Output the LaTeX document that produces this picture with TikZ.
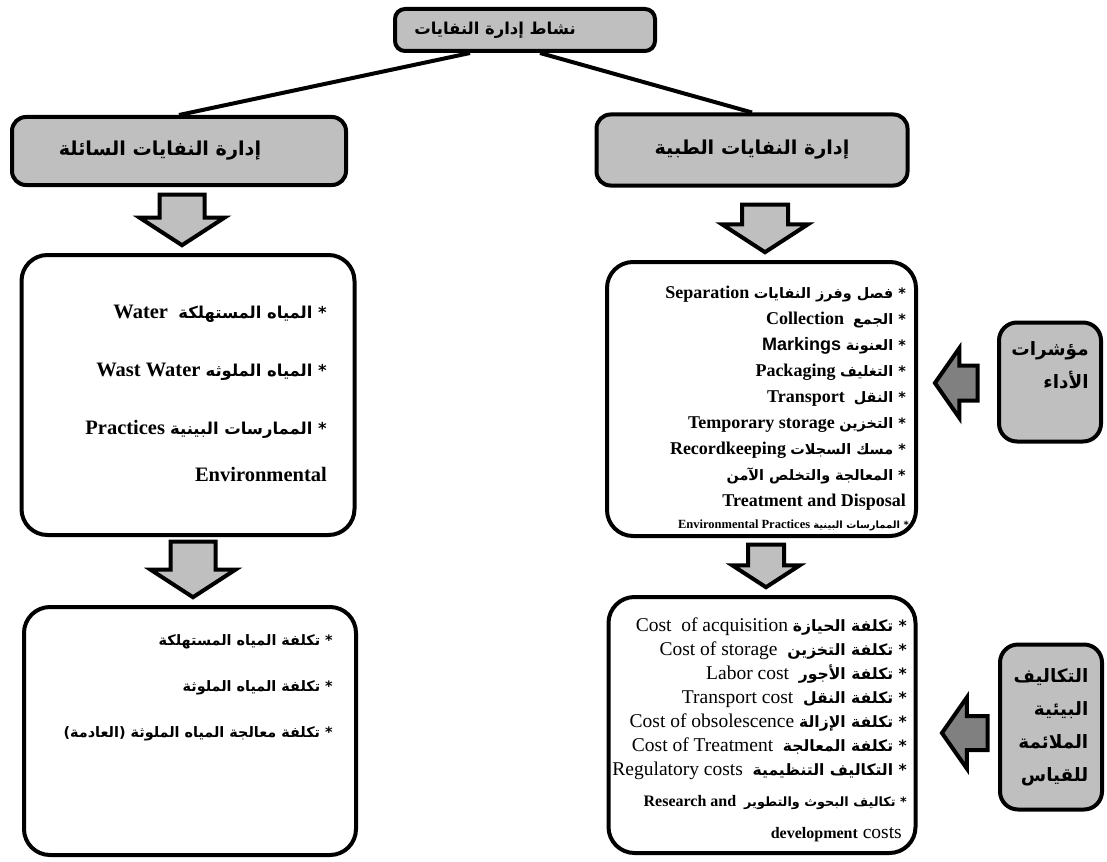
\documentclass[tikz,border=0pt]{standalone}
\usepackage{fontspec}
\setmainfont{Liberation Serif}
\newfontfamily\arabicfont[Script=Arabic,Scale=0.8]{DejaVu Sans}
\newfontfamily\latinsans{Liberation Sans}
\TeXXeTstate=1
\usetikzlibrary{shapes.arrows,calc}

\newcommand{\artext}[1]{{\arabicfont\bfseries #1}}

\tikzset{
  headbox/.style={draw, line width=4pt, fill=gray!50, rounded corners=14pt,
    font=\fontsize{24}{26}\selectfont\arabicfont\bfseries},
  listbox/.style={draw, line width=4pt, fill=white, rounded corners=26pt},
  sidebox/.style={draw, line width=4pt, fill=gray!50, rounded corners=18pt, align=right,
    font=\fontsize{23}{33}\selectfont\arabicfont\bfseries},
  itemtext/.style={anchor=north east, align=right, inner sep=0pt},
  downarrow/.style={single arrow, draw, line width=4pt, fill=gray!50, inner ysep=0pt,
    anchor=tip, shape border rotate=270, single arrow tip angle=114},
  leftarrow/.style={single arrow, draw, line width=4pt, fill=gray, inner xsep=0pt,
    anchor=tip, shape border rotate=180, single arrow tip angle=110},
  branch/.style={line width=4pt}
}

\begin{document}
\begin{tikzpicture}[x=1pt, y=-1pt]
  \useasboundingbox (0,0) rectangle (1107,861);

  % headers
  \node[headbox, minimum width=260pt, minimum height=42pt, rounded corners=10pt,
    font=\fontsize{20.5}{22}\selectfont\arabicfont\bfseries] (top) at (525,30)
    {\beginR نشاط إدارة النفايات\endR\hspace*{60pt}};
  \node[headbox, minimum width=334pt, minimum height=68pt] (lhead) at (179,151)
    {\beginR إدارة النفايات السائلة\endR\hspace*{38pt}};
  \node[headbox, minimum width=311pt, minimum height=71pt] (rhead) at (752,150)
    {\beginR إدارة النفايات الطبية\endR};

  \draw[branch] ($(top.south)+(-55,0)$) -- (lhead.north);
  \draw[branch] ($(top.south)+(15,0)$) -- (rhead.north);

  % boxes
  \node[listbox, minimum width=333pt, minimum height=280pt] (lbox1) at (188,395) {};
  \node[listbox, minimum width=332pt, minimum height=248pt] (lbox2) at (190,731) {};
  \node[listbox, minimum width=309pt, minimum height=274pt] (rbox1) at (761.5,399) {};
  \node[listbox, minimum width=307pt, minimum height=256pt] (rbox2) at (762,725) {};

  % block arrows
  \node[downarrow, minimum height=50.6pt, minimum width=81pt, inner xsep=20.5pt,
    single arrow head extend=20pt] (larrow1) at (182,247.6) {};
  \node[downarrow, minimum height=55.6pt, minimum width=81pt, inner xsep=20.5pt,
    single arrow head extend=20pt] (larrow2) at (193,599.6) {};
  \node[downarrow, minimum height=47.6pt, minimum width=82pt, inner xsep=21pt,
    single arrow head extend=20pt] (rarrow1) at (765,254.6) {};
  \node[downarrow, minimum height=42.6pt, minimum width=63pt, inner xsep=16pt,
    single arrow head extend=15.5pt] (rarrow2) at (766,589.6) {};

  % side boxes
  \node[sidebox, minimum width=102pt, minimum height=119pt] (kpi) at (1050,382)
    {\beginR مؤشرات\endR\\ \beginR الأداء\endR\\ \mbox{}};
  \node[sidebox, minimum width=102pt, minimum height=165pt] (envcost) at (1051,727)
    {\beginR التكاليف\endR\\ \beginR البيئية\endR\\ \beginR الملائمة\endR\\ \beginR للقياس\endR};
  \node[leftarrow, minimum height=42.6pt, minimum width=66pt, inner ysep=15.5pt,
    single arrow head extend=17.5pt] (kpiarrow) at (932.5,383) {};
  \node[leftarrow, minimum height=45.6pt, minimum width=67pt, inner ysep=15pt,
    single arrow head extend=18.5pt] (costarrow) at (939.5,733) {};

  % texts
  \node[itemtext, font=\fontsize{20.5}{58}\selectfont\bfseries] (lbox1txt) at (327,305)
    {\beginR\artext{* المياه المستهلكة}\ \ Water\endR\\
     \beginR\artext{* المياه الملوثه} \beginL Wast Water\endL\endR\\
     \beginR\artext{* الممارسات البينية} Practices\endR\\[-11pt]
     Environmental};
  \node[itemtext, font=\fontsize{18}{46}\selectfont\arabicfont\bfseries] (lbox2txt) at (333,634)
    {\beginR * تكلفة المياه المستهلكة\endR\\
     \beginR * تكلفة المياه الملوثة\endR\\
     \beginR * تكلفة معالجة المياه الملوثة (العادمة)\endR};
  \node[itemtext, font=\fontsize{18}{26}\selectfont\bfseries] (rbox1txt) at (906,286)
    {\beginR\artext{* فصل وفرز النفايات} Separation\endR\\
     \beginR\artext{* الجمع}\ \ Collection\endR\\
     \beginR\artext{* العنونة} {\latinsans Markings}\endR\\
     \beginR\artext{* التغليف} Packaging\endR\\
     \beginR\artext{* النقل}\ \ Transport\endR\\
     \beginR\artext{* التخزين} \beginL Temporary storage\endL\endR\\
     \beginR\artext{* مسك السجلات} Recordkeeping\endR\\
     \beginR\artext{* المعالجة والتخلص الآمن}\endR\\
     Treatment and Disposal\hspace*{20pt}\\[-4pt]
     {\fontsize{12.5}{13}\selectfont\beginR\artext{* الممارسات البينية} \beginL Environmental Practices\endL\endR}\hspace*{-3pt}};
  \node[itemtext, font=\fontsize{19.5}{24}\selectfont] (rbox2txt) at (907,618)
    {\beginR\artext{* تكلفة الحيازة} \beginL Cost\ \ of acquisition\endL\endR\\
     \beginR\artext{* تكلفة التخزين}\ \ \beginL Cost of storage\endL\endR\\
     \beginR\artext{* تكلفة الأجور}\ \ \beginL Labor cost\endL\endR\\
     \beginR\artext{* تكلفة النقل}\ \ \beginL Transport cost\endL\endR\\
     \beginR\artext{* تكلفة الإزالة} \beginL Cost of obsolescence\endL\endR\\
     \beginR\artext{* تكلفة المعالجة}\ \ \beginL Cost of Treatment\endL\endR\\
     \beginR\artext{* التكاليف التنظيمية}\ \ \beginL Regulatory costs\endL\endR\\[7pt]
     {\fontsize{16}{16}\selectfont\bfseries\beginR\artext{* تكاليف البحوث والتطوير}\ \ \beginL Research and\endL\endR}\hspace*{9pt}\\[8pt]
     {\fontsize{16}{16}\selectfont\bfseries development} costs\hspace*{5pt}};
\end{tikzpicture}
\end{document}
